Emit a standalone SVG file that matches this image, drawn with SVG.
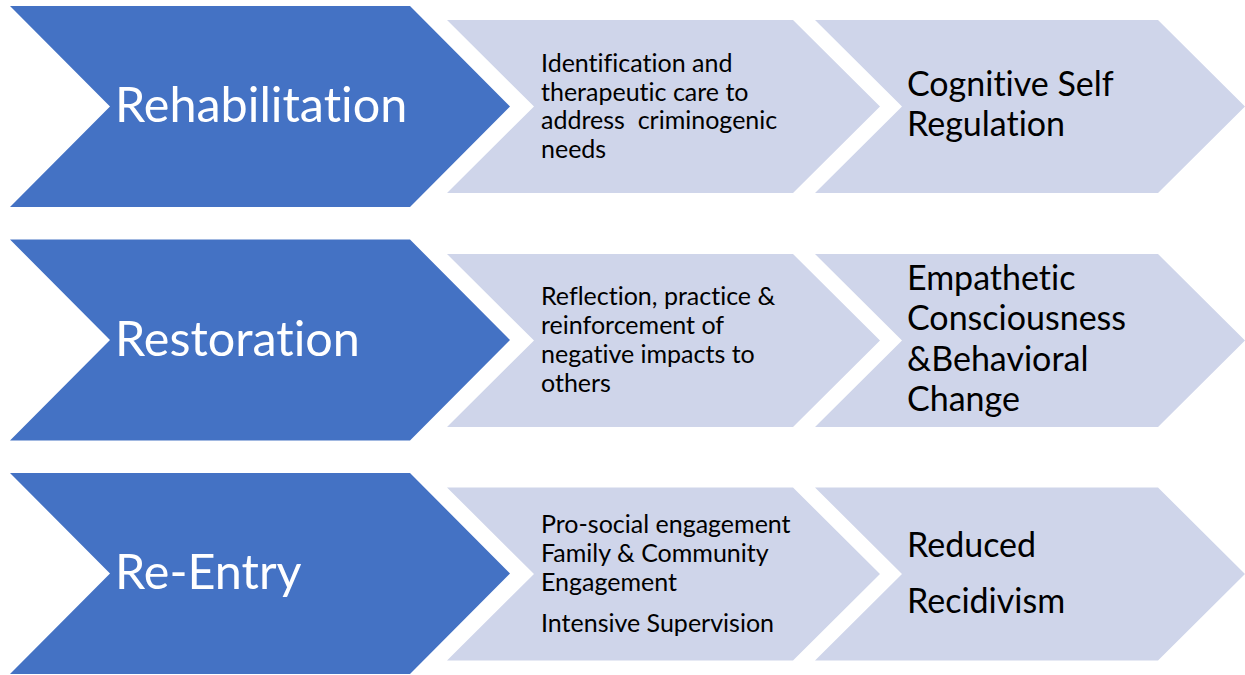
<svg xmlns="http://www.w3.org/2000/svg" width="1245" height="675" viewBox="0 0 1245 675">
<style>
.blue{fill:#4472C4}
.light{fill:#CFD5EA}
text{font-family:Lato,"Open Sans","Liberation Sans",sans-serif;font-variant-ligatures:none;font-feature-settings:"liga" 0,"dlig" 0;white-space:pre}
.big{font-size:48.5px;fill:#FFFFFF}
.mid{font-size:25px;fill:#000000}
.res{font-size:34px;fill:#000000}
</style>
<defs>
<polygon id="bigChev" points="10,0 410,0 510,100.5 410,201 10,201 110,100.5"/>
<polygon id="midChev" points="447,0 793,0 880,86.5 793,173 447,173 534,86.5"/>
<polygon id="endChev" points="815,0 1158,0 1245,86.5 1158,173 815,173 902,86.5"/>
</defs>
<g id="connectors"></g>
<g id="row1-phase">
<use href="#bigChev" class="blue" y="6"/>
<text class="big" x="115" y="122">Rehabilitation</text>
</g>
<g id="row1-activity">
<use href="#midChev" class="light" y="20"/>
<text class="mid" x="541" xml:space="preserve"><tspan x="541" y="72">Identification and</tspan><tspan x="541" y="100.5">therapeutic care to</tspan><tspan x="541" y="129">address  criminogenic</tspan><tspan x="541" y="157.5">needs</tspan></text>
</g>
<g id="row1-outcome">
<use href="#endChev" class="light" y="20"/>
<text class="res" x="907"><tspan x="907" y="96">Cognitive Self</tspan><tspan x="907" y="136">Regulation</tspan></text>
</g>
<g id="row2-phase">
<use href="#bigChev" class="blue" y="239.5"/>
<text class="big" x="115" y="356">Restoration</text>
</g>
<g id="row2-activity">
<use href="#midChev" class="light" y="254"/>
<text class="mid" x="541"><tspan x="541" y="304.5">Reflection, practice &amp;</tspan><tspan x="541" y="333.5">reinforcement of</tspan><tspan x="541" y="362.5">negative impacts to</tspan><tspan x="541" y="391.5">others</tspan></text>
</g>
<g id="row2-outcome">
<use href="#endChev" class="light" y="254"/>
<text class="res" x="907"><tspan x="907" y="289.5">Empathetic</tspan><tspan x="907" y="330">Consciousness</tspan><tspan x="907" y="370.5">&amp;Behavioral</tspan><tspan x="907" y="411">Change</tspan></text>
</g>
<g id="row3-phase">
<use href="#bigChev" class="blue" y="473"/>
<text class="big" x="115" y="589">Re-Entry</text>
</g>
<g id="row3-activity">
<use href="#midChev" class="light" y="487.5"/>
<text class="mid" x="541"><tspan x="541" y="533">Pro-social engagement</tspan><tspan x="541" y="562">Family &amp; Community</tspan><tspan x="541" y="590.5">Engagement</tspan><tspan x="541" y="632">Intensive Supervision</tspan></text>
</g>
<g id="row3-outcome">
<use href="#endChev" class="light" y="487.5"/>
<text class="res" x="907"><tspan x="907" y="557">Reduced</tspan><tspan x="907" y="613">Recidivism</tspan></text>
</g>
</svg>
